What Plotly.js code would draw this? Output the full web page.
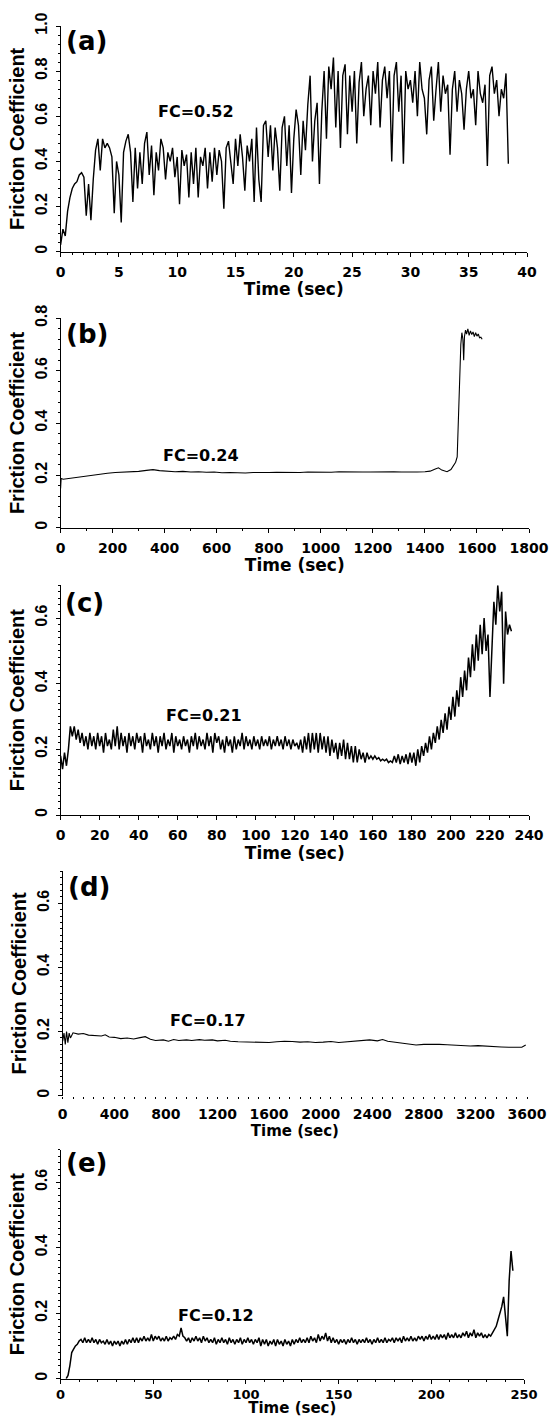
<!DOCTYPE html>
<html><head><meta charset="utf-8">
<script src="https://cdn.plot.ly/plotly-3.0.1.min.js"></script>
<style>html,body{margin:0;padding:0;background:#fff}#chart{width:549px;height:1417px}</style>
</head><body><div id="chart"></div>
<script>
// ---------- DATA ----------
// Panel (a): sampled every 0.2 s starting at 0 s
const fcA = [
 0.03,0.10,0.07,0.18,0.24,0.28,0.30,0.31,0.34,0.35,
 0.33,0.16,0.30,0.14,0.32,0.45,0.50,0.36,0.50,0.46,
 0.48,0.46,0.42,0.17,0.40,0.34,0.13,0.44,0.49,0.52,
 0.44,0.22,0.46,0.28,0.44,0.30,0.48,0.53,0.34,0.47,
 0.25,0.44,0.36,0.50,0.46,0.32,0.44,0.40,0.46,0.33,
 0.42,0.21,0.45,0.38,0.43,0.24,0.44,0.30,0.46,0.24,
 0.42,0.38,0.46,0.28,0.44,0.31,0.46,0.34,0.45,0.40,
 0.19,0.46,0.49,0.38,0.30,0.50,0.38,0.52,0.42,0.27,
 0.47,0.40,0.50,0.22,0.55,0.32,0.22,0.56,0.58,0.42,
 0.56,0.36,0.55,0.46,0.27,0.55,0.60,0.38,0.56,0.26,
 0.50,0.63,0.56,0.34,0.58,0.45,0.65,0.78,0.40,0.58,
 0.66,0.30,0.62,0.80,0.50,0.82,0.72,0.86,0.55,0.80,
 0.46,0.78,0.83,0.52,0.78,0.62,0.80,0.48,0.75,0.84,
 0.60,0.72,0.78,0.56,0.80,0.70,0.84,0.55,0.76,0.82,
 0.68,0.80,0.40,0.78,0.84,0.62,0.78,0.39,0.80,0.72,
 0.76,0.66,0.80,0.60,0.84,0.72,0.68,0.52,0.76,0.82,
 0.58,0.72,0.84,0.62,0.78,0.70,0.74,0.43,0.72,0.80,
 0.62,0.76,0.70,0.54,0.72,0.80,0.68,0.72,0.56,0.80,
 0.70,0.66,0.74,0.38,0.78,0.82,0.70,0.76,0.60,0.72,
 0.68,0.79,0.39
];
// Panel (b): time (s) / friction coefficient
const timeB = [0,2,10,30,60,90,120,150,180,210,240,270,300,330,355,380,410,440,470,500,
 530,560,590,620,650,680,710,740,770,800,830,860,890,920,950,980,1010,1040,1070,1100,
 1130,1160,1190,1220,1250,1280,1310,1340,1370,1400,1420,1440,1452,1465,1485,1500,1510,1518,1524,1528,
 1533,1538,1542,1546,1549,1552,1556,1560,1565,1570,1575,1580,1585,1590,1595,1600,1605,1610,1615,1620];
const fcB = [0.150,0.188,0.185,0.188,0.192,0.196,0.200,0.205,0.208,0.211,0.212,0.214,0.215,0.219,0.222,0.218,0.216,0.214,0.215,0.213,
 0.214,0.212,0.213,0.210,0.211,0.210,0.209,0.211,0.210,0.211,0.212,0.211,0.212,0.211,0.213,0.212,0.213,0.212,0.214,0.213,
 0.214,0.213,0.213,0.214,0.213,0.214,0.213,0.212,0.213,0.214,0.216,0.224,0.229,0.220,0.214,0.222,0.238,0.250,0.270,0.420,
 0.600,0.700,0.745,0.720,0.640,0.730,0.755,0.740,0.760,0.735,0.752,0.738,0.748,0.730,0.745,0.732,0.740,0.726,0.728,0.720];
// Panel (c): sampled every 1 s starting at 0 s
const fcC = [
 0.18,0.14,0.19,0.15,0.20,0.27,0.24,0.27,0.23,0.26,
 0.22,0.25,0.21,0.24,0.20,0.25,0.21,0.24,0.20,0.25,
 0.21,0.24,0.19,0.25,0.21,0.23,0.20,0.26,0.21,0.27,
 0.20,0.25,0.21,0.24,0.19,0.25,0.21,0.24,0.20,0.25,
 0.22,0.24,0.19,0.25,0.21,0.23,0.20,0.25,0.21,0.24,
 0.19,0.24,0.21,0.25,0.20,0.23,0.21,0.25,0.19,0.24,
 0.21,0.23,0.20,0.24,0.21,0.23,0.19,0.24,0.21,0.25,
 0.20,0.24,0.21,0.23,0.20,0.25,0.21,0.24,0.19,0.25,
 0.22,0.24,0.20,0.23,0.19,0.24,0.21,0.23,0.19,0.24,
 0.20,0.23,0.21,0.25,0.20,0.24,0.21,0.23,0.20,0.24,
 0.21,0.23,0.20,0.24,0.21,0.23,0.21,0.24,0.20,0.23,
 0.21,0.24,0.21,0.23,0.20,0.24,0.21,0.23,0.20,0.23,
 0.21,0.22,0.20,0.23,0.19,0.24,0.20,0.25,0.19,0.25,
 0.20,0.25,0.19,0.25,0.20,0.24,0.19,0.24,0.18,0.23,
 0.19,0.22,0.17,0.22,0.18,0.23,0.17,0.22,0.17,0.21,
 0.16,0.21,0.16,0.20,0.17,0.19,0.16,0.19,0.17,0.18,
 0.17,0.18,0.17,0.175,0.165,0.17,0.165,0.17,0.16,0.165,
 0.16,0.18,0.16,0.185,0.155,0.18,0.16,0.185,0.155,0.19,
 0.16,0.19,0.15,0.20,0.16,0.21,0.18,0.22,0.19,0.24,
 0.20,0.25,0.22,0.27,0.23,0.29,0.25,0.31,0.26,0.33,
 0.29,0.36,0.30,0.38,0.33,0.42,0.36,0.44,0.38,0.48,
 0.42,0.52,0.44,0.55,0.47,0.58,0.49,0.60,0.50,0.55,
 0.36,0.52,0.65,0.58,0.70,0.62,0.68,0.40,0.62,0.55,
 0.58,0.56
];
// Panel (d): time (s) / friction coefficient
const timeD = [0,10,20,30,40,50,60,80,120,160,200,250,300,330,360,400,450,500,550,600,
 640,680,720,780,820,860,900,960,1000,1060,1100,1160,1200,1260,1300,1360,1420,1480,1540,1600,
 1660,1720,1780,1840,1900,1960,2020,2080,2140,2200,2260,2320,2380,2440,2480,2520,2560,2620,2680,2740,
 2800,2860,2920,2980,3040,3100,3160,3220,3280,3340,3400,3460,3520,3560,3590];
const fcD = [0.170,0.195,0.160,0.200,0.165,0.195,0.180,0.196,0.192,0.194,0.189,0.187,0.186,0.190,0.183,0.182,0.178,0.180,0.177,0.181,
 0.184,0.176,0.172,0.174,0.170,0.175,0.172,0.174,0.172,0.175,0.173,0.174,0.171,0.173,0.170,0.168,0.167,0.166,0.165,0.166,
 0.168,0.170,0.169,0.167,0.168,0.166,0.167,0.169,0.166,0.168,0.170,0.172,0.174,0.171,0.175,0.170,0.168,0.165,0.160,0.158,
 0.160,0.161,0.160,0.159,0.157,0.156,0.155,0.156,0.154,0.153,0.152,0.151,0.150,0.151,0.158];
// Panel (e): sampled every 1 s starting at 3 s
const fcE = [
 0.00,0.01,0.04,0.08,0.09,0.10,0.105,0.115,0.12,0.11,
 0.125,0.11,0.12,0.11,0.125,0.11,0.12,0.105,0.12,0.11,
 0.115,0.105,0.12,0.105,0.115,0.10,0.115,0.105,0.115,0.10,
 0.115,0.105,0.12,0.105,0.12,0.11,0.125,0.11,0.125,0.11,
 0.125,0.115,0.13,0.115,0.125,0.115,0.135,0.115,0.13,0.12,
 0.13,0.115,0.125,0.115,0.13,0.115,0.125,0.12,0.13,0.12,
 0.135,0.13,0.155,0.13,0.125,0.115,0.125,0.11,0.125,0.115,
 0.13,0.115,0.125,0.11,0.13,0.115,0.125,0.11,0.12,0.11,
 0.125,0.105,0.12,0.11,0.125,0.11,0.12,0.105,0.125,0.11,
 0.12,0.105,0.12,0.11,0.125,0.105,0.12,0.11,0.125,0.11,
 0.12,0.105,0.12,0.11,0.125,0.10,0.12,0.105,0.12,0.10,
 0.115,0.105,0.12,0.10,0.12,0.105,0.115,0.10,0.12,0.105,
 0.115,0.10,0.12,0.105,0.12,0.11,0.125,0.11,0.12,0.11,
 0.125,0.11,0.13,0.115,0.125,0.11,0.135,0.115,0.13,0.12,
 0.14,0.115,0.13,0.11,0.125,0.11,0.12,0.105,0.12,0.11,
 0.12,0.105,0.12,0.11,0.125,0.11,0.12,0.105,0.12,0.11,
 0.12,0.11,0.125,0.11,0.12,0.105,0.12,0.11,0.125,0.11,
 0.12,0.11,0.125,0.11,0.12,0.115,0.125,0.11,0.125,0.115,
 0.125,0.11,0.13,0.115,0.125,0.115,0.13,0.115,0.125,0.115,
 0.13,0.12,0.13,0.115,0.13,0.12,0.135,0.12,0.13,0.12,
 0.135,0.12,0.135,0.125,0.135,0.12,0.14,0.125,0.135,0.125,
 0.14,0.125,0.135,0.125,0.14,0.13,0.145,0.125,0.14,0.13,
 0.15,0.125,0.14,0.13,0.14,0.125,0.135,0.125,0.135,0.13,
 0.14,0.15,0.16,0.18,0.20,0.22,0.25,0.19,0.13,0.30,
 0.39,0.33
];
// Tick values and labels
const xTicksA = [0,5,10,15,20,25,30,35,40];
const xTicksB = [0,200,400,600,800,1000,1200,1400,1600,1800];
const xTicksC = [0,20,40,60,80,100,120,140,160,180,200,220,240];
const xTicksD = [0,400,800,1200,1600,2000,2400,2800,3200,3600];
const xTicksE = [0,50,100,150,200,250];
const yTicksA = [0,0.2,0.4,0.6,0.8,1.0];
const yLabelsA = ['0','0.2','0.4','0.6','0.8','1.0'];
const yTicksB = [0,0.2,0.4,0.6,0.8];
const yLabelsB = ['0','0.2','0.4','0.6','0.8'];
const yTicksCDE = [0,0.2,0.4,0.6];
const yLabelsCDE = ['0','0.2','0.4','0.6'];
const panelLabels = ['(a)','(b)','(c)','(d)','(e)'];
const fcLabels = ['FC=0.52','FC=0.24','FC=0.21','FC=0.17','FC=0.12'];
const xTitle = 'Time (sec)';
const yTitle = 'Friction Coefficient';

// ---------- LAYOUT (pixel geometry) ----------
const W = 549, H = 1417;
const geo = [
 {l:60.6, r:527,   top:26,    bot:251.7,  xr:[0,40],   yr:[0,1.0], xt:xTicksA, yt:yTicksA, yl:yLabelsA, xm:1,   ym:0.04, lab:[86,41],   fc:[196,111], dottedX:false, lw:1.4, tso:4, lso:3, tf:14, ttf:17},
 {l:60.6, r:529,   top:318.3, bot:527.7,  xr:[0,1800], yr:[0,0.8], xt:xTicksB, yt:yTicksB, yl:yLabelsB, xm:100, ym:0.04, lab:[87,334],  fc:[201,455], dottedX:false, lw:1.1, tso:4, lso:3, tf:14, ttf:17},
 {l:60.6, r:529,   top:585.3, bot:815,    xr:[0,240],  yr:[0,0.7], xt:xTicksC, yt:yTicksCDE, yl:yLabelsCDE, xm:10, ym:0.02, lab:[85,603], fc:[204,715], dottedX:false, lw:1.5, tso:4, lso:3, tf:14, ttf:17},
 {l:62.7, r:527,   top:871.2, bot:1095.7, xr:[0,3600], yr:[0,0.7], xt:xTicksD, yt:yTicksCDE, yl:yLabelsCDE, xm:80, ym:0.02, lab:[89,887], fc:[208,1020], dottedX:true, lw:1.1, tso:2, lso:3, tf:14, ttf:15},
 {l:60.6, r:524,   top:1149.6,bot:1378.7, xr:[0,250],  yr:[0,0.7], xt:xTicksE, yt:yTicksCDE, yl:yLabelsCDE, xm:10, ym:0.02, lab:[86,1163], fc:[216,1315], dottedX:false, lw:1.5, tso:1, lso:0, tf:13, ttf:15}
];

const traces = [
 {y:fcA, x0:0, dx:0.2},
 {x:timeB, y:fcB},
 {y:fcC, x0:0, dx:1},
 {x:timeD, y:fcD},
 {y:fcE, x0:3, dx:1}
].map((t,i)=>Object.assign(t,{type:'scatter', mode:'lines', xaxis:'x'+(i+1), yaxis:'y'+(i+1),
   line:{color:'#000', width:geo[i].lw}, hoverinfo:'skip', showlegend:false}));

const layout = {width:W, height:H, margin:{l:0,r:0,t:0,b:0}, paper_bgcolor:'#fff', plot_bgcolor:'rgba(0,0,0,0)',
  showlegend:false, annotations:[]};
const black = '#000';
geo.forEach((g,i)=>{
  const n = i+1;
  layout['xaxis'+n] = {
    domain:[g.l/W, g.r/W], anchor:'y'+n, range:g.xr, tickmode:'array', tickvals:g.xt,
    showline:!g.dottedX, linecolor:black, linewidth:1, ticks:'outside', ticklen:g.dottedX?2:4, tickcolor:black,
    minor:{tickmode:'linear', tick0:0, dtick:g.xm, ticks:'outside', ticklen:2, tickcolor:black},
    tickfont:{family:'DejaVu Sans', size:g.tf, color:black, weight:'bold'},
    ticklabelstandoff:g.lso,
    title:{text:xTitle, font:{family:'DejaVu Sans', size:g.ttf, color:black, weight:'bold'}, standoff:g.tso},
    showgrid:false, zeroline:false, fixedrange:true, automargin:false
  };
  layout['yaxis'+n] = {
    domain:[1-g.bot/H, 1-g.top/H], anchor:'x'+n, range:g.yr, tickmode:'array', tickvals:g.yt, ticktext:g.yl,
    showline:true, linecolor:black, linewidth:1, ticks:'outside', ticklen:4, tickcolor:black,
    minor:{tickmode:'linear', tick0:0, dtick:g.ym, ticks:'outside', ticklen:2, tickcolor:black},
    tickangle:-90,
    tickfont:{family:'Liberation Sans', size:16, color:black, weight:'bold'},
    ticklabelstandoff:2,
    title:{text:yTitle, font:{family:'Liberation Sans', size:20, color:black, weight:'bold'}, standoff:3},
    showgrid:false, zeroline:false, fixedrange:true, automargin:false
  };
  layout.annotations.push({xref:'paper', yref:'paper', x:g.lab[0]/W, y:1-g.lab[1]/H, xanchor:'center', yanchor:'middle',
    text:panelLabels[i], showarrow:false, font:{family:'DejaVu Sans', size:26, color:black, weight:'bold'}});
  layout.annotations.push({xref:'paper', yref:'paper', x:g.fc[0]/W, y:1-g.fc[1]/H, xanchor:'center', yanchor:'middle',
    text:fcLabels[i], showarrow:false, font:{family:'DejaVu Sans', size:16, color:black, weight:'bold'}});
});

Plotly.newPlot('chart', traces, layout, {staticPlot:true, displayModeBar:false});
</script>
</body></html>
